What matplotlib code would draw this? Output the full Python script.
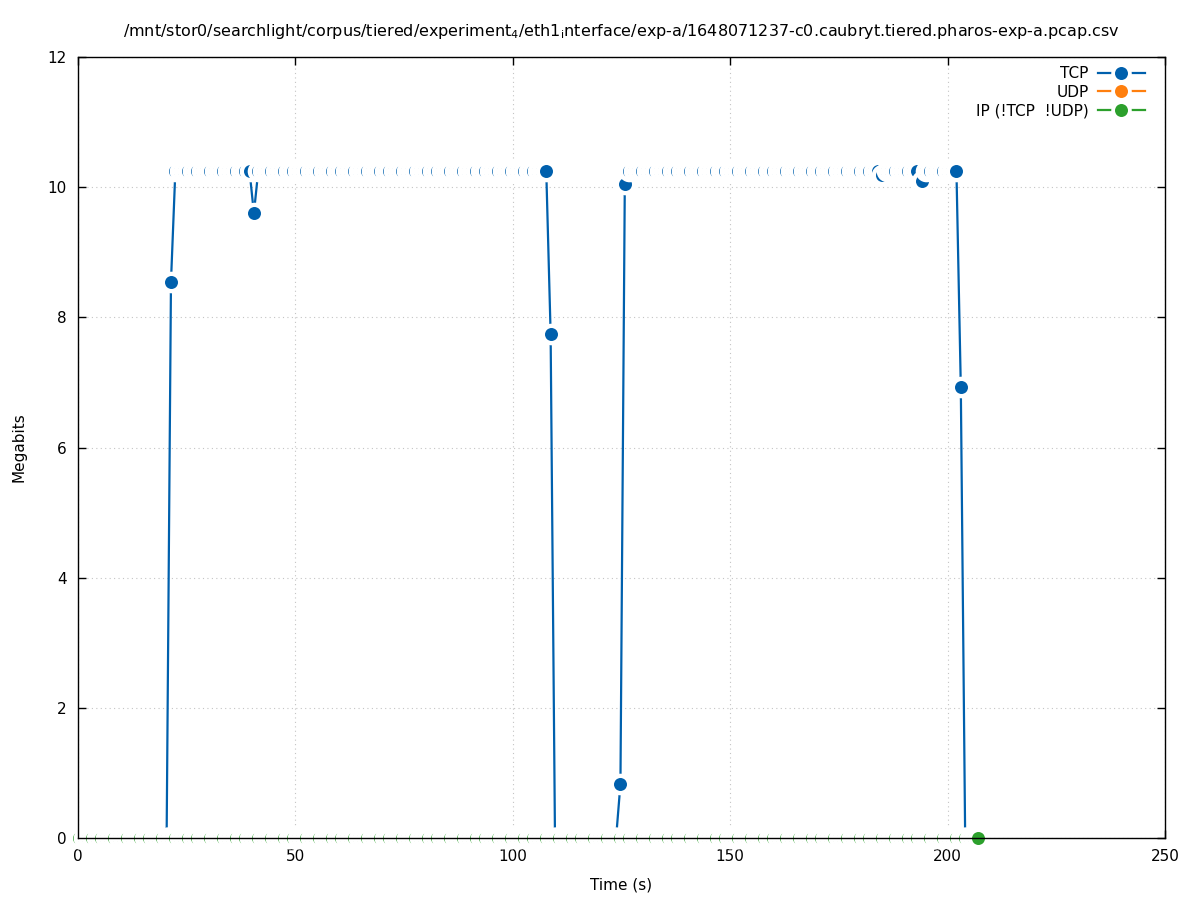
import matplotlib
matplotlib.use("Agg")
import matplotlib.pyplot as plt
from matplotlib.lines import Line2D
from matplotlib.legend_handler import HandlerTuple

# ---------------- data ----------------
title_text = ("/mnt/stor0/searchlight/corpus/tiered/experiment$_{4}$/eth1$_{\\mathrm{i}}$nterface/"
              "exp-a/1648071237-c0.caubryt.tiered.pharos-exp-a.pcap.csv")
series_names = ["TCP", "UDP", "IP (!TCP  !UDP)"]
series_colors = ["#0060ad", "#ff7f0e", "#2ca02c"]

# one sample per (about) second
sample_start = 0.31
sample_step = 1.0036
n_samples = 207
time_s = [sample_start + k * sample_step for k in range(n_samples)]

tcp_mbit = ([0.0] * 21 + [8.55] + [10.25] * 18 + [9.6] + [10.25] * 67 + [7.75]
            + [0.0] * 15 + [0.83] + [10.05] + [10.25] * 58 + [10.18] + [10.25] * 8
            + [10.1] + [10.25] * 8 + [6.93] + [0.0] * 4)
udp_mbit = [0.0] * n_samples
ip_mbit = [0.0] * n_samples

x_ticks = [0, 50, 100, 150, 200, 250]
y_ticks = [0, 2, 4, 6, 8, 10, 12]

# ---------------- figure ----------------
plt.rcParams["font.family"] = ["DejaVu Sans"]
plt.rcParams["font.size"] = 11
plt.rcParams["mathtext.fontset"] = "dejavusans"

fig = plt.figure(figsize=(11.97, 9.0), dpi=100)
ax = fig.add_axes([78 / 1197, 1 - 838 / 900, (1165 - 78) / 1197, (838 - 57) / 900])

DOT_MS = 13.0 * 72 / 100      # coloured point diameter (pt)
BLANK_MS = 21.6 * 72 / 100    # background blank around each point (pt)
LW = 1.6

for s, (vals, col) in enumerate(zip([tcp_mbit, udp_mbit, ip_mbit], series_colors)):
    base = 10 + 10 * s
    ax.plot(time_s, vals, color=col, lw=LW, zorder=base)
    for k, (x, y) in enumerate(zip(time_s, vals)):
        z = base + 1 + k * 0.004
        ax.plot([x], [y], "o", ms=BLANK_MS, color="white", mec="none",
                zorder=z, clip_on=False)
        ax.plot([x], [y], "o", ms=DOT_MS, color=col, mec="none",
                zorder=z + 0.002, clip_on=False)

ax.set_xlim(0, 250)
ax.set_ylim(0, 12)
ax.set_xticks(x_ticks)
ax.set_yticks(y_ticks)
ax.set_axisbelow(True)
ax.grid(True, color="#c4c4c4", linestyle=(0, (1, 3)), linewidth=0.8)
ax.tick_params(direction="in", length=6, width=1, top=True, right=True,
               labelsize=11, pad=8, color="black")
for sp in ax.spines.values():
    sp.set_linewidth(1.0)
    sp.set_zorder(200)

ax.set_xlabel("Time (s)", fontsize=11, labelpad=10)
ax.set_ylabel("Megabits", fontsize=11, labelpad=15)
ax.set_title(title_text, fontsize=11.5, pad=15)

# legend: line - blank - point, text on the left, right aligned
handles = []
for col in series_colors:
    ln = Line2D([], [], color=col, lw=LW)
    bl = Line2D([], [], ls="none", marker="o", ms=BLANK_MS * 0.95, color="white", mec="none")
    dt = Line2D([], [], ls="none", marker="o", ms=DOT_MS, color=col, mec="none")
    handles.append((ln, bl, dt))
leg = ax.legend(handles, series_names, loc="upper right", markerfirst=False,
                frameon=False, handler_map={tuple: HandlerTuple(ndivide=1, pad=0)},
                handlelength=3.1, handletextpad=0.6, labelspacing=0.25,
                borderaxespad=0, borderpad=0, numpoints=1,
                bbox_to_anchor=(1 - 20 / 1087, 1 - 9 / 781))
leg.set_zorder(300)

fig.savefig("out.png", dpi=100)
